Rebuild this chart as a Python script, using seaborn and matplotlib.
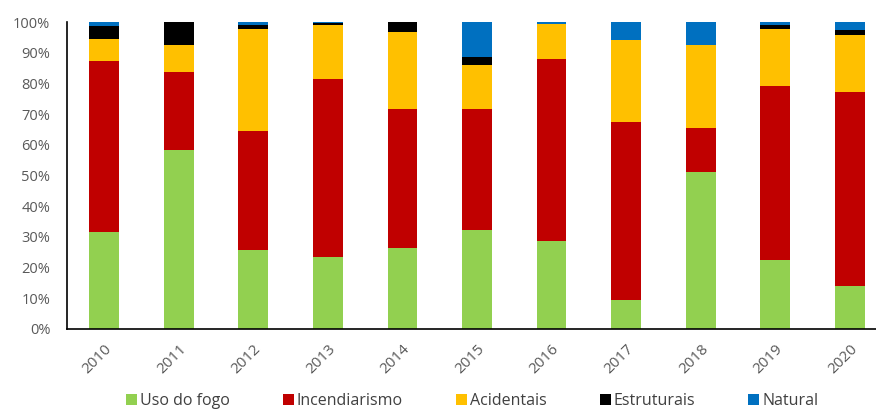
import matplotlib
matplotlib.use("Agg")
import matplotlib.pyplot as plt
import seaborn as sns
import numpy as np
import pandas as pd
from matplotlib.patches import Patch
from matplotlib.ticker import FuncFormatter

years = ["2010", "2011", "2012", "2013", "2014", "2015", "2016", "2017", "2018", "2019", "2020"]
uso_do_fogo   = [31.5, 58.3, 25.7, 23.5, 26.4, 32.2, 28.7,  9.4, 51.1, 22.5, 14.0]
incendiarismo = [55.7, 25.5, 38.8, 57.8, 45.2, 39.5, 59.3, 57.9, 14.4, 56.7, 63.3]
acidentais    = [ 7.3,  8.8, 33.2, 17.8, 25.0, 14.3, 11.2, 26.9, 27.1, 18.6, 18.6]
estruturais   = [ 4.2,  7.4,  1.2,  0.7,  3.4,  2.7,  0.2,  0.0,  0.0,  1.2,  1.5]
natural       = [ 1.3,  0.0,  1.1,  0.2,  0.0, 11.3,  0.6,  5.8,  7.4,  1.0,  2.6]

series_names = ["Uso do fogo", "Incendiarismo", "Acidentais", "Estruturais", "Natural"]
series_vals = [uso_do_fogo, incendiarismo, acidentais, estruturais, natural]
colors = ["#92D050", "#C00000", "#FFC000", "#000000", "#0070C0"]

plt.rcParams["font.family"] = ["Open Sans", "DejaVu Sans"]
sns.set_style("white")
plt.rcParams["font.family"] = ["Open Sans", "DejaVu Sans"]

fig = plt.figure(figsize=(8.76, 4.12), dpi=100)
ax = fig.add_axes([67/876, (412-329)/412, (887-67)/876, (329-22)/412])

cum = np.cumsum(np.array(series_vals), axis=0)
# draw from the top series down so that lower series overlay
for i in range(len(series_names) - 1, -1, -1):
    df = pd.DataFrame({"year": years, "value": cum[i]})
    sns.barplot(data=df, x="year", y="value", color=colors[i], width=0.4,
                saturation=1, ax=ax, linewidth=0, order=years)

ax.set_ylim(0, 100)
ax.set_xlim(-0.5, 10.5)
ax.set_yticks(np.arange(0, 101, 10))
ax.yaxis.set_major_formatter(FuncFormatter(lambda v, p: f"{int(v)}%"))
ax.set_xlabel("")
ax.set_ylabel("")
for s in ["top", "right"]:
    ax.spines[s].set_visible(False)
for s in ["left", "bottom"]:
    ax.spines[s].set_color("#000000")
    ax.spines[s].set_linewidth(1.2)
ax.tick_params(axis="both", length=0, colors="#595959", labelsize=10.5)
ax.tick_params(axis="y", pad=12)
ax.tick_params(axis="x", pad=9, labelsize=11)
for lbl in ax.get_xticklabels():
    lbl.set_rotation(45)
    lbl.set_ha("right")
    lbl.set_rotation_mode("anchor")

handles = [Patch(facecolor=c, edgecolor="none") for c in colors]
fig.legend(handles, series_names, loc="lower center", ncol=5, frameon=False,
           bbox_to_anchor=(0.539, -0.028), fontsize=11.5, handlelength=0.7,
           handleheight=0.7, handletextpad=0.2, columnspacing=3.3,
           labelcolor="#404040")

fig.savefig("out.png", dpi=100)
